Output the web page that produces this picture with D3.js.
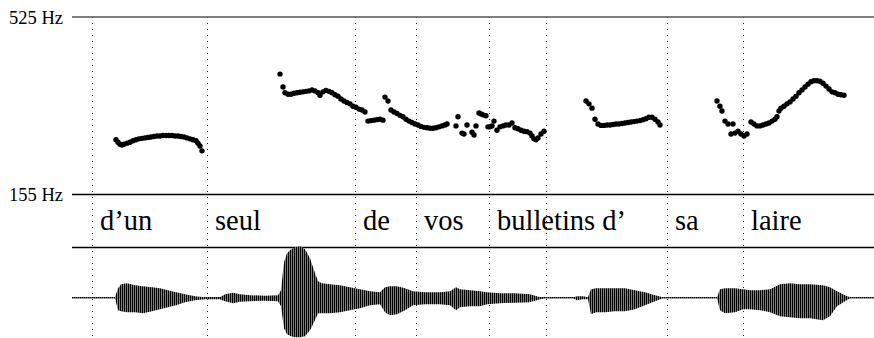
<!DOCTYPE html>
<html><head><meta charset="utf-8">
<script src="https://cdn.jsdelivr.net/npm/d3@7"></script>
<style>html,body{margin:0;padding:0;background:#fff;}svg{display:block;}</style>
</head><body>
<svg id="chart" width="874" height="338"></svg>
<script>
// ---- data (time in ms, pitch in Hz) ----
const pitchTicks = [525, 155];
const pitchUnit = "Hz";
const totalDuration = 3208;

const pitchT1 = [176,184,192,200,208,220,232,244,256,268,280,292,304,316,328,340,352,364,376,388,400,412,424,436,448,460,472,484,496,504,512,520];
const pitchF1 = [269,264,260,258,260,262,264,267,269,271,272,273,274,275,276,277,277,278,278,278,278,277,277,276,275,273,271,269,267,262,256,246];

const pitchT2 = [832,844,852,864,876,888,900,912,924,936,948,960,972,984,992,1004,1016,1028,1040,1052,1064,1076,1088,1100,1112,1124,1136,1148,1160,1172,
  1184,1196,1208,1220,1232,1244,1252,1264,
  1276,1288,1300,1312,1324,1336,1348,1360,1372,1384,1396,1408,1420,1432,1444,1456,1468,1480,1492,1500];
const pitchF2 = [406,379,367,364,364,366,367,368,369,370,371,373,371,367,362,369,372,370,367,363,360,354,350,347,344,339,337,333,331,327,
  308,309,310,311,312,310,358,350,
  331,327,324,320,317,312,308,305,302,300,297,295,294,293,293,294,296,298,300,302];

const pitchT3 = [1536,1544,1560,1568,1580,1600,1608,1616,1628,1636,1644,1656,1664,1672,1680,1688,1700,1712,1724,1736,1748,1760,1772,1784,1796,1808,1820,1832,1840,1848,1856,1864,1876,1888];
const pitchF3 = [298,317,283,281,300,285,279,298,325,323,321,319,296,296,298,308,289,296,298,300,300,304,294,292,289,287,286,283,277,271,269,273,281,287];

const pitchT4 = [2056,2068,2080,2092,2104,2116,2128,2140,2152,2164,2176,2188,2200,2212,2224,2236,2248,2260,2272,2284,2296,2308,2320,2332,2344,2352];
const pitchF4 = [350,344,335,312,302,299,299,300,300,301,302,302,303,304,305,306,307,308,309,311,313,316,316,312,306,300];

const pitchT5 = [2580,2592,2600,2612,2624,2644,2636,2652,2664,2676,2688,2700,2716,2728,2740,2752,2764,2776,2788,2800,2812,2820,2828,2836,2848,2860,2872,2884,2896,2908,2920,2932,2944,2956,2968,2980,2992,3004,3016,3028,3040,3052,3064,3076,3088];
const pitchF5 = [350,339,329,308,302,302,281,283,287,281,277,281,306,302,298,298,300,302,304,308,312,317,329,335,339,344,348,354,360,367,373,379,385,390,392,392,391,387,381,375,369,367,364,363,362];

const wordLabels = ["d\u2019un","seul","de","vos","bulletins d\u2019","sa","laire"];
const wordStarts = [78,538,1130,1374,1666,2378,2682];
const boundaries = [78,538,1130,1374,1666,1894,2378,2682];

// waveform envelope (normalized amplitude)
const waveT = [0,172,184,196,220,252,284,320,352,384,416,452,492,532,592,612,644,672,712,772,824,836,848,860,876,892,912,932,952,968,984,1000,1032,1072,1112,1152,1192,1232,1252,1272,1300,1332,1364,1412,1472,1512,1536,1552,1592,1632,1660,1712,1772,1832,1872,1892,2004,2020,2044,2064,2076,2096,2132,2172,2212,2252,2292,2332,2364,2580,2592,2612,2652,2684,2712,2752,2792,2832,2872,2912,2952,3004,3032,3060,3092,3112,3208];
const waveTop = [0.01,0.01,0.19,0.27,0.29,0.25,0.23,0.21,0.19,0.15,0.11,0.07,0.03,0.01,0.01,0.07,0.10,0.07,0.05,0.04,0.05,0.15,0.71,0.89,0.97,1.01,1.03,0.97,0.79,0.55,0.33,0.29,0.27,0.25,0.21,0.17,0.13,0.11,0.21,0.23,0.23,0.19,0.13,0.11,0.11,0.13,0.21,0.17,0.15,0.13,0.11,0.09,0.09,0.07,0.01,0.01,0.01,0.03,0.03,0.01,0.17,0.19,0.19,0.19,0.19,0.15,0.11,0.05,0.01,0.01,0.17,0.19,0.19,0.17,0.15,0.15,0.17,0.27,0.29,0.27,0.27,0.25,0.21,0.13,0.05,0.01,0.01];
const waveBottom = [-0.01,-0.01,-0.25,-0.27,-0.29,-0.29,-0.31,-0.27,-0.23,-0.19,-0.15,-0.09,-0.05,-0.03,-0.03,-0.07,-0.11,-0.08,-0.07,-0.06,-0.07,-0.17,-0.61,-0.73,-0.77,-0.79,-0.79,-0.77,-0.65,-0.49,-0.31,-0.31,-0.31,-0.29,-0.25,-0.21,-0.15,-0.13,-0.29,-0.35,-0.33,-0.25,-0.15,-0.13,-0.13,-0.15,-0.25,-0.19,-0.17,-0.17,-0.13,-0.11,-0.10,-0.09,-0.03,-0.01,-0.01,-0.05,-0.03,-0.03,-0.33,-0.29,-0.29,-0.27,-0.27,-0.23,-0.15,-0.07,-0.01,-0.01,-0.25,-0.31,-0.29,-0.23,-0.23,-0.25,-0.29,-0.37,-0.39,-0.41,-0.41,-0.45,-0.37,-0.17,-0.07,-0.01,-0.01];

// ---- drawing ----
const svg = d3.select("#chart");
const serif = "'Liberation Serif','Times New Roman',serif";

const x = d3.scaleLinear().domain([0, totalDuration]).range([72, 874]);
const yP = d3.scaleLinear().domain([155, 525]).range([194.5, 17]);
const yW = d3.scaleLinear().domain([-1, 1]).range([347.7, 247.7]);
const textBaseline = 230;
const tierBottom = 247.5;

// stripe pattern for the waveform texture
const defs = svg.append("defs");
const pat = defs.append("pattern").attr("id", "stripes").attr("patternUnits", "userSpaceOnUse")
  .attr("width", 2).attr("height", 10);
pat.append("rect").attr("width", 2).attr("height", 10).attr("fill", "#fff");
pat.append("rect").attr("width", 1.5).attr("height", 10).attr("fill", "#000");

// dotted word boundaries
svg.append("g").selectAll("line").data(boundaries).join("line")
  .attr("x1", d => Math.round(x(d)) + 0.5).attr("x2", d => Math.round(x(d)) + 0.5)
  .attr("y1", yP(525)).attr("y2", 338)
  .attr("stroke", "#222").attr("stroke-width", 1).attr("stroke-dasharray", "1,5");

// horizontal rules
svg.append("line").attr("x1", 72).attr("x2", 874).attr("y1", yP(525)).attr("y2", yP(525))
  .attr("stroke", "#555").attr("stroke-width", 1.5);
svg.append("line").attr("x1", 72).attr("x2", 874).attr("y1", yP(155)).attr("y2", yP(155))
  .attr("stroke", "#000").attr("stroke-width", 1.3);
svg.append("line").attr("x1", 72).attr("x2", 874).attr("y1", tierBottom).attr("y2", tierBottom)
  .attr("stroke", "#000").attr("stroke-width", 1.3);

// pitch tick labels
svg.append("g").selectAll("text").data(pitchTicks).join("text")
  .attr("x", 63).attr("y", d => yP(d) + 6.8)
  .attr("text-anchor", "end").attr("font-family", serif).attr("font-size", 18.5)
  .attr("fill", "#000").text(d => d + " " + pitchUnit);

// pitch points
const segs = [[pitchT1,pitchF1],[pitchT2,pitchF2],[pitchT3,pitchF3],[pitchT4,pitchF4],[pitchT5,pitchF5]];
const pts = [];
segs.forEach(([ts, fs]) => ts.forEach((t, i) => pts.push({t, f: fs[i]})));
svg.append("g").selectAll("circle").data(pts).join("circle")
  .attr("cx", d => x(d.t)).attr("cy", d => yP(d.f)).attr("r", 2.7).attr("fill", "#000");

// word labels
svg.append("g").selectAll("text").data(wordLabels).join("text")
  .attr("x", (d, i) => x(wordStarts[i]) + 8.5).attr("y", textBaseline)
  .attr("font-family", serif).attr("font-size", 28.5).attr("fill", "#000")
  .text(d => d);

// waveform
const waveData = waveT.map((t, i) => ({t, top: waveTop[i], bot: waveBottom[i]}));
svg.append("line").attr("x1", 72).attr("x2", 874).attr("y1", yW(0)).attr("y2", yW(0))
  .attr("stroke", "#000").attr("stroke-width", 1.2);
svg.append("path").datum(waveData)
  .attr("d", d3.area().x(d => x(d.t)).y0(d => yW(d.bot)).y1(d => yW(d.top)).curve(d3.curveLinear))
  .attr("fill", "url(#stripes)").attr("stroke", "none");
</script>
</body></html>
